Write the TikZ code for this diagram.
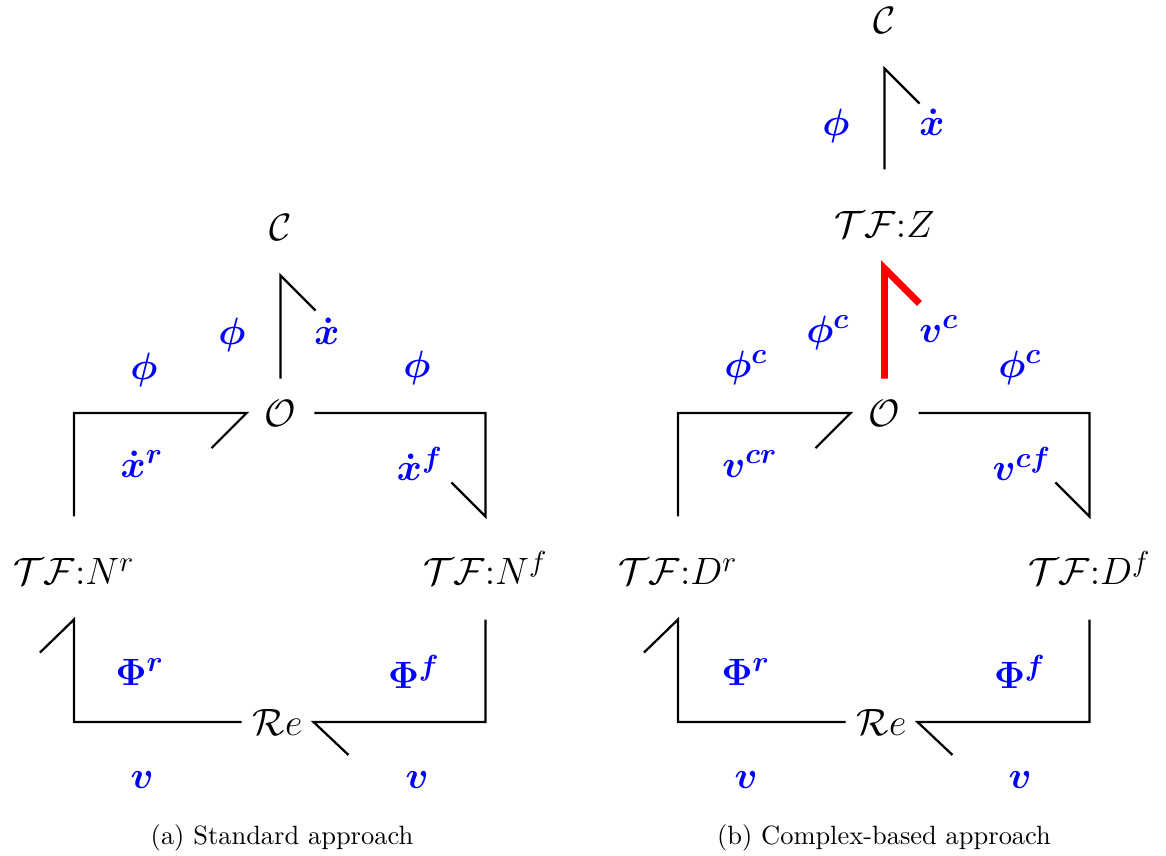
\documentclass[tikz,border=0pt]{standalone}
\usepackage{amsmath,bm}
\newcommand\dgfont{\fontsize{15.7}{19}\selectfont}
\newcommand\tfc{{\mathbf{:}}}
\begin{document}
\begin{tikzpicture}[x=0.378pt,y=-0.378pt,
  bond/.style={line width=0.85pt},
  hot/.style={line width=2.6pt, red},
  lbl/.style={text=blue, font=\dgfont, inner sep=0pt},
  elem/.style={font=\dgfont, inner sep=0pt, anchor=base},
  cnode/.style={elem, text depth=12.85pt},
  onode/.style={elem, text height=18.1pt, text depth=7.6pt, minimum width=25.3pt},
  tfnode/.style={elem, text height=25.7pt, text depth=12.85pt},
  renode/.style={elem, text height=15.1pt, text depth=4.5pt, minimum width=26.8pt},
  captext/.style={font=\normalsize, inner sep=0pt}]
\useasboundingbox (0,0) rectangle (1166,856);

% ---------- (a) ----------
\node[cnode]  (Ca)   at (280.5,241) {$\mathcal{C}$};
\node[onode]  (Oa)   at (280.5,427) {$\mathcal{O}$};
\node[tfnode] (TFNr) at (74,585)    {$\mathcal{TF}\tfc N^r$};
\node[tfnode] (TFNf) at (485.5,585) {$\mathcal{TF}\tfc N^f$};
\node[renode] (Rea)  at (277.5,736) {$\mathcal{R}e$};

\draw[bond] (Oa.north) -- (Ca.south) -- ++(35,35);
\draw[bond] (Oa.west) ++(-35,35) -- (Oa.west) -| (TFNr.north);
\draw[bond] (Oa.east) -| (TFNf.north) -- ++(-34,-34);
\draw[bond] (TFNr.south) ++(-34,33) -- (TFNr.south) |- (Rea.west);
\draw[bond] (TFNf.south) |- (Rea.east) -- ++(35,33);

\node[lbl] (la1)  at (232,335) {$\bm{\phi}$};
\node[lbl] (la2)  at (327,331) {$\bm{\dot{x}}$};
\node[lbl] (la3)  at (144,370) {$\bm{\phi}$};
\node[lbl] (la4)  at (142,464) {$\bm{\dot{x}^{r}}$};
\node[lbl] (la5)  at (417,368) {$\bm{\phi}$};
\node[lbl] (la6)  at (420,464) {$\bm{\dot{x}^{f}}$};
\node[lbl] (la7)  at (140,672) {$\bm{\Phi^{r}}$};
\node[lbl] (la8)  at (414,672) {$\bm{\Phi^{f}}$};
\node[lbl] (la9)  at (142,780) {$\bm{v}$};
\node[lbl] (la10) at (417,780) {$\bm{v}$};

\node[captext] (capa) at (282,838) {(a) Standard approach};

% ---------- (b) ----------
\node[cnode]  (Cb)   at (884.5,34)   {$\mathcal{C}$};
\node[tfnode, text depth=11.3pt] (TFZ) at (884.5,238) {$\mathcal{TF}\tfc Z$};
\node[onode]  (Ob)   at (884.5,427)  {$\mathcal{O}$};
\node[tfnode] (TFDr) at (678,585)    {$\mathcal{TF}\tfc D^r$};
\node[tfnode] (TFDf) at (1089.5,585) {$\mathcal{TF}\tfc D^f$};
\node[renode] (Reb)  at (881.5,736)  {$\mathcal{R}e$};

\draw[bond] (TFZ.north) -- (Cb.south) -- ++(35,35);
\draw[hot]  (Ob.north) -- (TFZ.south) -- ++(35,35);
\draw[bond] (Ob.west) ++(-35,35) -- (Ob.west) -| (TFDr.north);
\draw[bond] (Ob.east) -| (TFDf.north) -- ++(-34,-34);
\draw[bond] (TFDr.south) ++(-34,33) -- (TFDr.south) |- (Reb.west);
\draw[bond] (TFDf.south) |- (Reb.east) -- ++(35,33);

\node[lbl] (lb1)  at (836,126)  {$\bm{\phi}$};
\node[lbl] (lb2)  at (932,122)  {$\bm{\dot{x}}$};
\node[lbl] (lb3)  at (828,333)  {$\bm{\phi^{c}}$};
\node[lbl] (lb4)  at (939,329)  {$\bm{v^{c}}$};
\node[lbl] (lb5)  at (746,368)  {$\bm{\phi^{c}}$};
\node[lbl] (lb6)  at (750,464)  {$\bm{v^{cr}}$};
\node[lbl] (lb7)  at (1020,368) {$\bm{\phi^{c}}$};
\node[lbl] (lb8)  at (1022,464) {$\bm{v^{cf}}$};
\node[lbl] (lb9)  at (746,672)  {$\bm{\Phi^{r}}$};
\node[lbl] (lb10) at (1020,672) {$\bm{\Phi^{f}}$};
\node[lbl] (lb11) at (746,780)  {$\bm{v}$};
\node[lbl] (lb12) at (1020,780) {$\bm{v}$};

\node[captext] (capb) at (884,838) {(b) Complex-based approach};
\end{tikzpicture}
\end{document}
